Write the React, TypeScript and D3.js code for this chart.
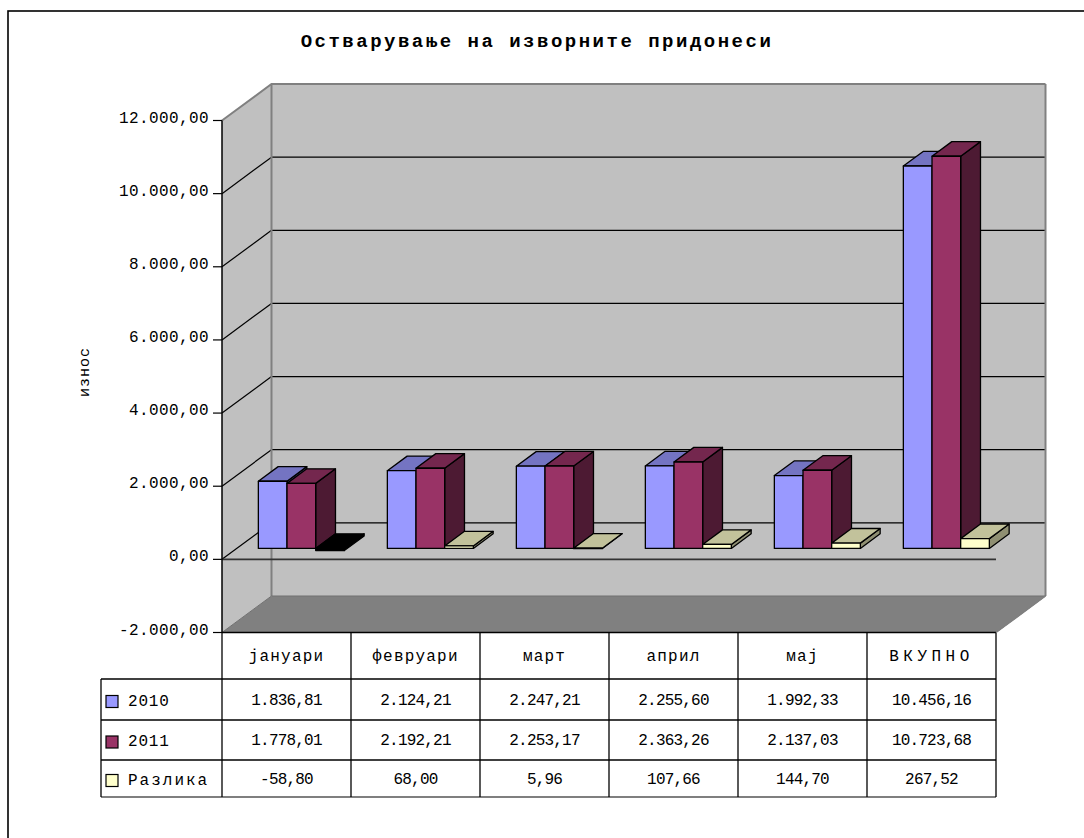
import React from "react";
import * as d3 from "d3";

// data
const categories = ["јануари", "февруари", "март", "април", "мај", "ВКУПНО"];
const seriesNames = ["2010", "2011", "Разлика"];
const values2010 = [1836.81, 2124.21, 2247.21, 2255.6, 1992.33, 10456.16];
const values2011 = [1778.01, 2192.21, 2253.17, 2363.26, 2137.03, 10723.68];
const valuesDiff = [-58.8, 68.0, 5.96, 107.66, 144.7, 267.52];
const yTicks = [-2000, 0, 2000, 4000, 6000, 8000, 10000, 12000];

const title = "Остварување на  изворните придонеси";
const yAxisLabel = "износ";

const seriesColors = ["#9999FF", "#993366", "#FFFFCC"];

const font = "'Liberation Mono', 'DejaVu Sans Mono', 'Courier New', monospace";

// projection constants
const DX = 49.5;
const DY = -36.5;
const D0 = 0.3;
const D1 = 0.7;

const loc = d3.formatLocale({
  decimal: ",",
  thousands: ".",
  grouping: [3],
  currency: ["", ""],
  minus: "-",
});
const fmt = loc.format(",.2f");

const shade = (c: string, k: number) => {
  const r = d3.rgb(c);
  return d3.rgb(r.r * k, r.g * k, r.b * k).formatHex();
};

const App = () => {
  const width = 1084;
  const height = 838;
  const x0 = 222;
  const x1 = 996;

  const y = d3.scaleLinear().domain([-2000, 12000]).range([632.5, 120.5]);
  const xCat = d3.scaleBand<string>().domain(categories).range([x0, x1]);
  const xSer = d3
    .scaleBand<string>()
    .domain(seriesNames)
    .range([0, xCat.bandwidth()])
    .paddingInner(0)
    .paddingOuter(0.75);

  const allSeries = [values2010, values2011, valuesDiff];

  const P = (px: number, py: number, d: number) =>
    `${px + DX * d},${py + DY * d}`;

  const bars: JSX.Element[] = [];
  categories.forEach((c, ci) => {
    allSeries.forEach((vals, si) => {
      const v = vals[ci];
      const xa = (xCat(c) as number) + (xSer(seriesNames[si]) as number);
      const xb = xa + xSer.bandwidth();
      const yt = y(Math.max(v, 0));
      const yb = y(Math.min(v, 0));
      const neg = v < 0;
      const base = seriesColors[si];
      const front = neg ? "#000" : base;
      const top = neg ? "#000" : shade(base, 0.76);
      const side = neg ? "#000" : shade(base, si === 2 ? 0.56 : 0.5);
      const key = `${ci}-${si}`;
      bars.push(
        <g key={key} stroke="#000" strokeWidth={1.3} strokeLinejoin="round">
          <polygon
            points={[P(xb, yt, D0), P(xb, yb, D0), P(xb, yb, D1), P(xb, yt, D1)].join(" ")}
            fill={side}
          />
          <polygon
            points={[P(xa, yt, D0), P(xb, yt, D0), P(xb, yt, D1), P(xa, yt, D1)].join(" ")}
            fill={top}
          />
          <rect
            x={xa + DX * D0}
            y={yt + DY * D0}
            width={xb - xa}
            height={Math.max(yb - yt, 0.5)}
            fill={front}
          />
        </g>
      );
    });
  });

  const backL = x0 + DX;
  const backR = x1 + DX;

  // table geometry
  const tableLeft = 101;
  const rowLines = [632.5, 679, 720, 760, 797];
  const colLines = [x0, ...categories.map((c) => (xCat(c) as number) + xCat.bandwidth())];

  return (
    <svg
      width={width}
      height={height}
      style={{ position: "absolute", left: 0, top: 0, display: "block" }}
    >
      <rect x={0} y={0} width={width} height={height} fill="#fff" />
      <rect x={8} y={11} width={1200} height={1000} fill="#fff" stroke="#000" strokeWidth={1.6} />

      <text
        x={537}
        y={47}
        textAnchor="middle"
        fontFamily={font}
        fontWeight="bold"
        fontSize={19}
        letterSpacing={2.5}
      >
        {title}
      </text>

      {/* walls */}
      <rect x={backL} y={y(12000) + DY} width={backR - backL} height={y(-2000) - y(12000)} fill="#C0C0C0" />
      <polygon
        points={[P(x0, y(12000), 0), P(x0, y(12000), 1), P(x0, y(-2000), 1), P(x0, y(-2000), 0)].join(" ")}
        fill="#C0C0C0"
      />
      {/* gridlines */}
      {yTicks
        .filter((t) => t > -2000 && t < 12000)
        .map((t) => (
          <g key={t} stroke="#000" strokeWidth={1.2}>
            <line x1={x0} y1={y(t)} x2={backL} y2={y(t) + DY} />
            <line x1={backL} y1={y(t) + DY} x2={backR} y2={y(t) + DY} />
          </g>
        ))}
      {/* wall edges */}
      <g stroke="#808080" strokeWidth={2} fill="none">
        <polyline points={[P(x0, y(12000), 0), P(x0, y(12000), 1), P(x1, y(12000), 1)].join(" ")} />
        <line x1={backL} y1={y(12000) + DY} x2={backL} y2={y(-2000) + DY} />
        <line x1={backR} y1={y(12000) + DY} x2={backR} y2={y(-2000) + DY} />
      </g>
      {/* floor */}
      <polygon
        points={[P(x0, y(-2000), 0), P(x1, y(-2000), 0), P(x1, y(-2000), 1), P(x0, y(-2000), 1)].join(" ")}
        fill="#808080"
        stroke="#707070"
        strokeWidth={1}
      />
      {/* zero line at the front */}
      <line x1={x0} y1={y(0)} x2={x1} y2={y(0)} stroke="#333" strokeWidth={1.8} />

      {bars}

      {/* value axis */}
      <line x1={x0} y1={y(12000)} x2={x0} y2={y(-2000)} stroke="#000" strokeWidth={1.5} />
      {yTicks.map((t) => (
        <g key={t}>
          <line x1={x0 - 9} y1={y(t)} x2={x0} y2={y(t)} stroke="#000" strokeWidth={1.2} />
          <text
            x={209}
            y={y(t) + 2}
            textAnchor="end"
            fontFamily={font}
            fontSize={16}
            letterSpacing={0.4}
          >
            {fmt(t)}
          </text>
        </g>
      ))}
      <text
        transform={`translate(89, 372) rotate(-90)`}
        textAnchor="middle"
        fontFamily={font}
        fontSize={15}
        letterSpacing={1}
      >
        {yAxisLabel}
      </text>

      {/* data table */}
      <g stroke="#000" strokeWidth={1.3}>
        <line x1={x0} y1={rowLines[0]} x2={x1} y2={rowLines[0]} />
        {rowLines.slice(1).map((r, i) => (
          <line key={i} x1={tableLeft} y1={r} x2={x1} y2={r} stroke={i === 3 ? "#555" : "#000"} />
        ))}
        {colLines.map((c, i) => (
          <line key={i} x1={c} y1={rowLines[0]} x2={c} y2={rowLines[4]} />
        ))}
        <line x1={tableLeft} y1={rowLines[1]} x2={tableLeft} y2={rowLines[4]} />
      </g>
      {/* floor right edge */}
      <line x1={x1} y1={y(-2000)} x2={backR} y2={y(-2000) + DY} stroke="#808080" strokeWidth={1.5} />

      {categories.map((c) => (
        <text
          key={c}
          x={(xCat(c) as number) + xCat.bandwidth() / 2}
          y={661}
          textAnchor="middle"
          fontFamily={font}
          fontSize={16}
          letterSpacing={c === "ВКУПНО" ? 4.5 : 1.2}
        >
          {c}
        </text>
      ))}
      {seriesNames.map((s, si) => {
        const rowTop = rowLines[si + 1];
        const rowBot = rowLines[si + 2];
        const cy = (rowTop + rowBot) / 2;
        return (
          <g key={s}>
            <rect x={106} y={cy - 4} width={12} height={12} fill={seriesColors[si]} stroke="#000" strokeWidth={1.2} />
            <text x={128} y={cy + 6} fontFamily={font} fontSize={16} letterSpacing={si === 2 ? 2 : 0.8}>
              {s}
            </text>
            {allSeries[si].map((v, ci) => (
              <text
                key={ci}
                x={(xCat(categories[ci]) as number) + xCat.bandwidth() / 2}
                y={cy + 5}
                textAnchor="middle"
                fontFamily={font}
                fontSize={16}
                letterSpacing={-0.8}
              >
                {fmt(v)}
              </text>
            ))}
          </g>
        );
      })}
    </svg>
  );
};

export default App;
